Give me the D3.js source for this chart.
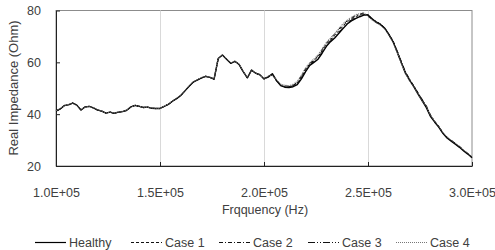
<!doctype html>
<html>
<head>
<meta charset="utf-8">
<script src="https://cdn.jsdelivr.net/npm/d3@7"></script>
<style>
  body { margin: 0; background: #fff; }
  text { font-family: "Liberation Sans", Arial, sans-serif; fill: #404040; }
</style>
</head>
<body>
<svg id="chart" width="495" height="250"></svg>
<script>
// frequency in Hz, one sample every 2 kHz from 100 kHz to 300 kHz
const freqs = d3.range(100000, 300001, 2000)

const healthy = [
  41.2,42.0,43.3,43.6,44.3,43.5,41.6,42.8,43.0,42.4,
  41.6,41.2,40.4,40.8,40.3,40.8,41.0,41.5,42.8,43.4,
  43.0,42.6,42.7,42.3,42.2,42.2,43.0,43.8,45.0,46.0,
  47.2,49.0,50.8,52.4,53.2,54.0,54.6,54.2,53.5,61.5,
  62.8,61.2,59.6,60.4,59.2,56.4,54.0,57.0,55.8,55.2,
  53.6,54.3,55.6,53.0,51.0,50.4,50.3,50.6,51.4,53.6,
  56.4,58.8,60.0,61.2,63.6,66.2,68.0,69.4,71.2,73.0,
  74.8,76.0,76.9,77.6,78.2,78.3,76.8,75.4,74.6,73.2,
  70.8,68.0,64.0,59.8,55.8,53.0,50.6,47.8,45.2,42.6,
  39.2,37.0,35.0,32.6,30.8,29.6,28.4,27.2,25.8,24.6,
  23.2
]
const case1 = [
  41.3,42.1,43.2,43.7,44.2,43.6,41.7,42.7,43.1,42.3,
  41.7,41.1,40.5,40.7,40.4,40.9,41.1,41.4,42.9,43.3,
  43.1,42.5,42.8,42.2,42.3,42.1,43.1,43.9,45.1,46.1,
  47.3,49.1,50.9,52.3,53.3,54.1,54.5,54.3,53.6,61.4,
  62.9,61.1,59.7,60.3,59.3,56.5,54.1,56.9,55.9,55.1,
  53.8,54.6,55.2,52.8,51.2,50.6,50.6,51.2,52.0,54.4,
  57.2,59.4,60.8,62.2,64.6,67.0,68.8,70.4,72.2,74.0,
  75.6,76.8,77.6,78.4,78.8,78.0,76.6,75.8,74.8,73.4,
  71.0,68.4,64.4,60.2,56.2,53.4,50.8,48.2,45.6,43.0,
  39.6,37.2,35.4,32.8,31.2,29.8,28.6,27.4,26.0,24.8,
  23.4
]
const case2 = [
  41.1,42.0,43.4,43.5,44.4,43.4,41.5,42.9,42.9,42.5,
  41.5,41.3,40.3,40.9,40.2,40.7,41.0,41.6,42.7,43.5,
  42.9,42.7,42.6,42.4,42.1,42.3,42.9,43.7,44.9,46.0,
  47.1,48.9,50.7,52.5,53.1,53.9,54.7,54.1,53.4,61.6,
  62.7,61.3,59.5,60.5,59.1,56.3,54.0,57.1,55.7,55.3,
  53.5,54.5,55.0,53.2,51.4,50.9,50.8,51.0,52.4,54.8,
  57.6,59.6,61.0,62.6,65.0,67.4,69.2,71.0,72.8,74.6,
  76.0,77.2,78.0,78.6,79.0,77.8,76.4,75.6,74.4,73.0,
  70.6,68.2,64.6,60.4,56.4,53.6,51.0,48.4,45.8,43.4,
  39.8,37.4,35.2,33.0,31.0,30.0,28.8,27.6,26.2,24.8,
  23.6
]
const case3 = [
  41.2,41.9,43.3,43.6,44.3,43.5,41.6,42.8,43.0,42.4,
  41.6,41.2,40.4,40.8,40.3,40.8,41.0,41.5,42.8,43.4,
  43.0,42.6,42.7,42.3,42.2,42.2,43.0,43.8,45.0,46.0,
  47.2,49.0,50.8,52.4,53.2,54.0,54.6,54.2,53.5,61.5,
  62.8,61.2,59.6,60.4,59.2,56.4,54.0,57.0,55.8,55.2,
  53.7,54.4,55.4,52.9,51.1,50.5,50.4,50.9,51.8,54.0,
  56.8,59.0,60.4,61.8,64.0,66.6,68.4,69.8,71.6,73.4,
  75.2,76.4,77.2,78.0,78.5,78.4,76.9,75.6,74.8,73.3,
  70.9,68.1,64.2,59.9,56.0,53.2,50.7,48.0,45.3,42.8,
  39.3,37.1,35.1,32.7,30.9,29.7,28.5,27.3,25.9,24.7,
  23.3
]
const case4 = [
  41.3,42.2,43.2,43.8,44.2,43.4,41.8,42.7,43.1,42.5,
  41.7,41.2,40.5,40.8,40.4,40.9,41.0,41.6,42.9,43.3,
  43.1,42.7,42.6,42.4,42.3,42.2,43.1,43.9,45.1,46.2,
  47.4,49.2,51.0,52.6,53.3,54.2,54.7,54.3,53.7,61.7,
  62.9,61.4,59.8,60.5,59.4,56.6,54.2,57.2,55.9,55.3,
  53.4,54.8,55.0,53.4,51.6,51.2,51.0,51.6,52.8,55.2,
  58.0,60.0,61.4,63.0,65.4,67.8,69.6,71.2,73.2,75.0,
  76.4,77.4,78.4,78.8,79.2,77.6,76.2,75.2,74.2,72.8,
  70.4,67.6,63.8,59.6,55.6,52.8,50.4,47.6,45.0,43.2,
  39.6,37.4,35.4,33.0,31.2,30.0,28.8,27.6,26.2,25.0,
  23.6
]

const seriesNames = ['Healthy', 'Case 1', 'Case 2', 'Case 3', 'Case 4']
const seriesValues = [healthy, case1, case2, case3, case4]
const xTicks = [100000, 150000, 200000, 250000, 300000]
const yTicks = [20, 40, 60, 80]

// line look per series
const styles = [
  { color: '#000', width: 1.4, dash: null },
  { color: '#111', width: 1, dash: '3,2' },
  { color: '#111', width: 1, dash: '4,2,1,2' },
  { color: '#111', width: 1, dash: '7,2,1,2,1,2' },
  { color: '#777', width: 1, dash: '1,1' }
]

const svg = d3.select('#chart')
const plotL = 56, plotR = 472, plotT = 10.5, plotB = 166

const x = d3.scaleLinear().domain([100000, 300000]).range([plotL, plotR])
const y = d3.scaleLinear().domain([20, 80]).range([plotB, plotT])

// frame
svg.append('rect')
  .attr('x', plotL).attr('y', plotT)
  .attr('width', plotR - plotL).attr('height', plotB - plotT)
  .attr('fill', 'none').attr('stroke', '#8c8c8c').attr('stroke-width', 1)

// vertical gridlines
svg.selectAll('line.grid')
  .data(xTicks.slice(1, -1))
  .enter()
  .append('line')
  .attr('class', 'grid')
  .attr('x1', d => Math.round(x(d)) + 0.5).attr('x2', d => Math.round(x(d)) + 0.5)
  .attr('y1', plotT).attr('y2', plotB)
  .attr('stroke', '#d9d9d9').attr('stroke-width', 1)

// axes
const xAxis = d3.axisBottom(x).tickValues(xTicks).tickSizeInner(-4).tickSizeOuter(0)
  .tickFormat(d => (d / 1e5).toFixed(1) + 'E+05')
const gx = svg.append('g').attr('transform', 'translate(0,' + plotB + ')').call(xAxis)
gx.select('.domain').attr('stroke', '#222')
gx.selectAll('line').attr('stroke', '#222')
gx.selectAll('text').attr('dy', null).attr('y', 31).attr('font-size', 12.5).attr('fill', '#404040')

const yAxis = d3.axisLeft(y).tickValues(yTicks).tickSizeInner(-4).tickSizeOuter(0)
const gy = svg.append('g').attr('transform', 'translate(' + plotL + ',0)').call(yAxis)
gy.select('.domain').attr('stroke', '#222')
gy.selectAll('line').attr('stroke', '#222')
gy.selectAll('text').attr('x', -15).attr('font-size', 12.5).attr('fill', '#404040')

// axis titles
svg.append('text')
  .attr('x', 265).attr('y', 214)
  .attr('text-anchor', 'middle')
  .attr('font-size', 12.5)
  .text('Frqquency (Hz)')
svg.append('text')
  .attr('transform', 'translate(18,88) rotate(-90)')
  .attr('text-anchor', 'middle')
  .attr('font-size', 13)
  .text('Real Impedance (Ohm)')

// series lines
const line = d3.line()
  .x((d, i) => x(freqs[i]))
  .y(d => y(d))

svg.selectAll('path.series')
  .data(seriesValues)
  .enter()
  .append('path')
  .attr('class', 'series')
  .attr('d', d => line(d))
  .attr('fill', 'none')
  .attr('stroke', (d, i) => styles[i].color)
  .attr('stroke-width', (d, i) => styles[i].width)
  .attr('stroke-dasharray', (d, i) => styles[i].dash)
  .attr('stroke-linejoin', 'round')

// legend
const legendX = [35, 131, 219, 308, 396]
const legend = svg.selectAll('g.legend')
  .data(seriesNames)
  .enter()
  .append('g')
  .attr('class', 'legend')
  .attr('transform', (d, i) => 'translate(' + legendX[i] + ',242)')
legend.append('line')
  .attr('x1', 0).attr('x2', 31)
  .attr('y1', 0.5).attr('y2', 0.5)
  .attr('stroke', (d, i) => styles[i].color)
  .attr('stroke-width', (d, i) => i == 0 ? 1.2 : 1)
  .attr('stroke-dasharray', (d, i) => styles[i].dash)
legend.append('text')
  .attr('x', 34).attr('y', 5)
  .attr('font-size', 12.5)
  .text(d => d)
</script>
</body>
</html>
